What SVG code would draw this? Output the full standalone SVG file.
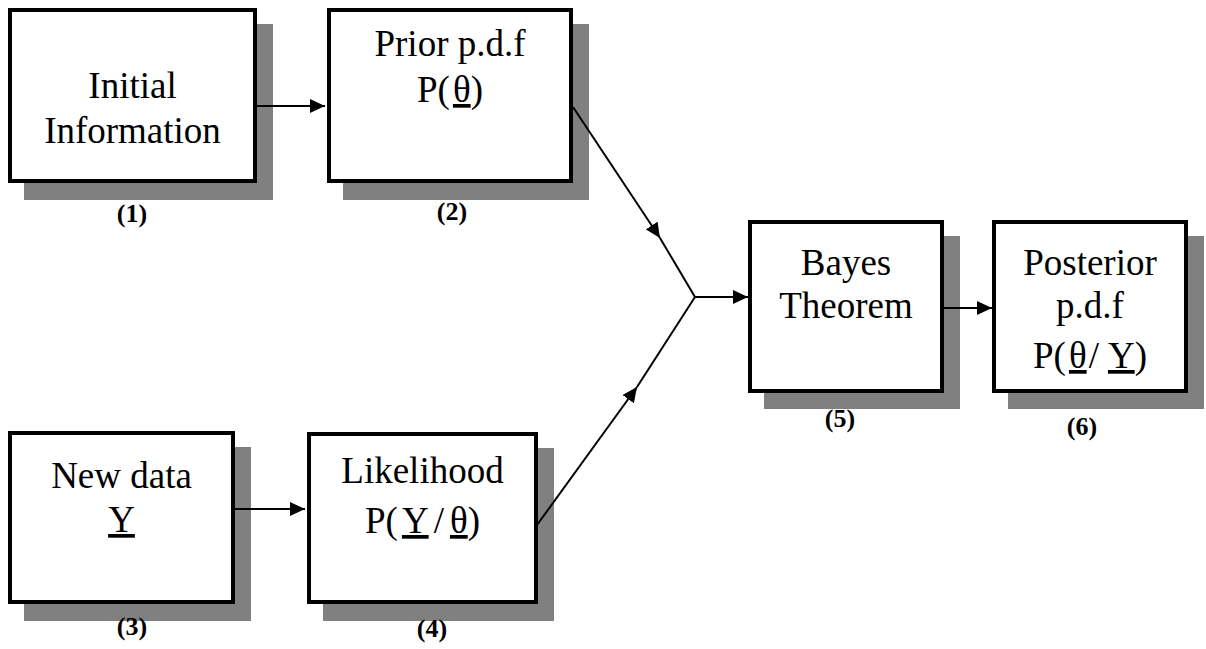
<svg xmlns="http://www.w3.org/2000/svg" width="1206" height="649" viewBox="0 0 1206 649">
<style>
.shadow{fill:#808080;stroke:none}
.box{fill:#ffffff;stroke:#000000;stroke-width:4}
.t{font-family:"Liberation Serif","Times New Roman",serif;font-size:37px;fill:#000;text-anchor:middle}
.n{font-family:"Liberation Serif","Times New Roman",serif;font-size:26px;font-weight:bold;fill:#000;text-anchor:middle}
.u{text-decoration:underline}
.c{fill:none;stroke:#000;stroke-width:2}
</style>
<defs>
<marker id="ah" markerUnits="userSpaceOnUse" markerWidth="16" markerHeight="14" refX="15" refY="7" orient="auto">
<path d="M0,0 L15,7 L0,14 Z" fill="#000"/>
</marker>
</defs>
<rect width="1206" height="649" fill="#ffffff"/>
<g id="node1">
<rect class="shadow" x="24" y="24" width="249" height="176"/>
<rect class="box" x="10" y="10" width="245" height="171"/>
<text class="t" x="132.5" y="98">Initial</text>
<text class="t" x="132.5" y="143">Information</text>
<text class="n" x="132" y="222">(1)</text>
</g>
<g id="node2">
<rect class="shadow" x="343" y="24" width="246" height="176"/>
<rect class="box" x="329" y="10" width="242" height="171"/>
<text class="t" x="450" y="56">Prior p.d.f</text>
<text class="t" x="450" y="102">P(<tspan class="u" dx="3">θ</tspan>)</text>
<text class="n" x="452" y="220">(2)</text>
</g>
<g id="node3">
<rect class="shadow" x="24" y="447" width="227" height="174"/>
<rect class="box" x="10" y="433" width="223" height="169"/>
<text class="t" x="121.5" y="488">New data</text>
<text class="t" x="121.5" y="532"><tspan class="u">Y</tspan></text>
<text class="n" x="132" y="635">(3)</text>
</g>
<g id="node4">
<rect class="shadow" x="323" y="448" width="231" height="173"/>
<rect class="box" x="309" y="434" width="227" height="168"/>
<text class="t" x="422.5" y="483">Likelihood</text>
<text class="t" x="422.5" y="533">P(<tspan class="u" dx="4">Y</tspan><tspan dx="5">/</tspan><tspan class="u" dx="6">θ</tspan>)</text>
<text class="n" x="432" y="637">(4)</text>
</g>
<g id="node5">
<rect class="shadow" x="764" y="236" width="196" height="173"/>
<rect class="box" x="750" y="222" width="192" height="169"/>
<text class="t" x="846" y="275">Bayes</text>
<text class="t" x="846" y="318">Theorem</text>
<text class="n" x="840" y="427">(5)</text>
</g>
<g id="node6">
<rect class="shadow" x="1008" y="236" width="196" height="173"/>
<rect class="box" x="994" y="222" width="192" height="169"/>
<text class="t" x="1090" y="275">Posterior</text>
<text class="t" x="1090" y="318">p.d.f</text>
<text class="t" x="1090" y="368">P(<tspan class="u" dx="3">θ</tspan><tspan dx="2">/</tspan><tspan class="u" dx="9">Y</tspan>)</text>
<text class="n" x="1082" y="435">(6)</text>
</g>
<g id="connectors">
<line class="c" x1="257" y1="106" x2="325" y2="106" marker-end="url(#ah)"/>
<line class="c" x1="234" y1="509" x2="305" y2="509" marker-end="url(#ah)"/>
<line class="c" x1="573" y1="107" x2="660" y2="238" marker-end="url(#ah)"/>
<line class="c" x1="660" y1="238" x2="695" y2="297"/>
<line class="c" x1="537" y1="525" x2="637" y2="387" marker-end="url(#ah)"/>
<line class="c" x1="637" y1="387" x2="695" y2="297"/>
<line class="c" x1="695" y1="297" x2="748" y2="297" marker-end="url(#ah)"/>
<line class="c" x1="940" y1="308" x2="992" y2="308" marker-end="url(#ah)"/>
</g>
</svg>
